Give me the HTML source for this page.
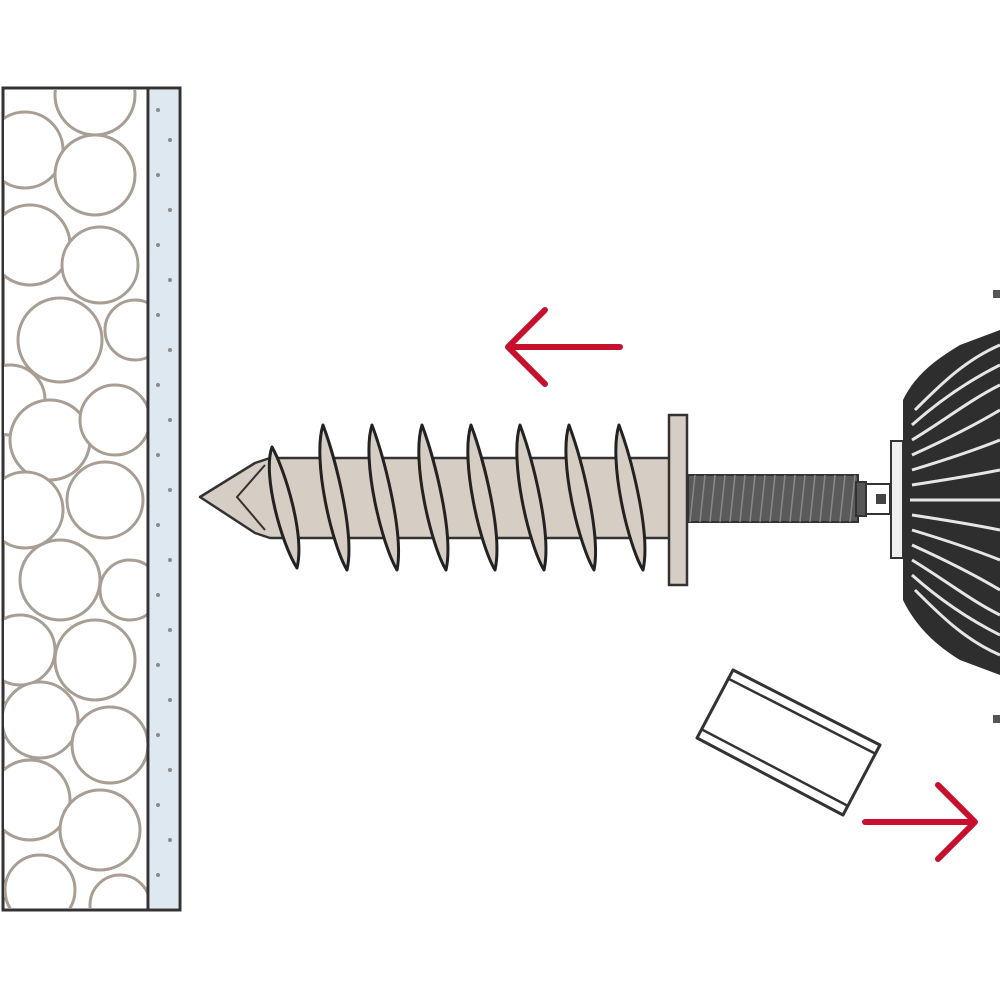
<!DOCTYPE html>
<html><head><meta charset="utf-8"><style>html,body{margin:0;padding:0;background:#fff}svg{display:block}</style></head>
<body>
<svg width="1000" height="1000" viewBox="0 0 1000 1000" xmlns="http://www.w3.org/2000/svg">
<defs>
<clipPath id="wc"><rect x="4" y="90" width="144" height="818"/></clipPath>
<clipPath id="bc"><path d="M1000 330 L960 345 C935 360 915 375 903 400 L903 600 C915 625 935 645 960 660 L1000 675 Z"/></clipPath>
</defs>
<!-- wall -->
<rect x="3" y="88" width="177" height="822" fill="#fff" stroke="#333" stroke-width="3"/>
<g clip-path="url(#wc)" fill="#fff" stroke="#a89e94" stroke-width="3">
<circle cx="95" cy="95" r="40"/><circle cx="25" cy="150" r="38"/><circle cx="95" cy="175" r="40"/>
<circle cx="30" cy="245" r="40"/><circle cx="100" cy="265" r="38"/><circle cx="60" cy="340" r="42"/>
<circle cx="135" cy="330" r="30"/><circle cx="10" cy="400" r="35"/><circle cx="50" cy="440" r="40"/>
<circle cx="115" cy="420" r="35"/><circle cx="105" cy="500" r="38"/><circle cx="25" cy="510" r="38"/>
<circle cx="60" cy="580" r="40"/><circle cx="130" cy="590" r="30"/><circle cx="20" cy="650" r="35"/>
<circle cx="95" cy="660" r="40"/><circle cx="40" cy="720" r="38"/><circle cx="110" cy="745" r="38"/>
<circle cx="30" cy="800" r="40"/><circle cx="100" cy="830" r="40"/><circle cx="40" cy="890" r="35"/><circle cx="120" cy="905" r="30"/>
</g>
<line x1="148" y1="88" x2="148" y2="910" stroke="#333" stroke-width="3"/>
<rect x="150" y="90" width="28" height="818" fill="#dde8f0"/>
<g fill="#8a8a8a">
<circle cx="158" cy="110" r="2"/><circle cx="170" cy="140" r="2"/><circle cx="158" cy="175" r="2"/><circle cx="170" cy="210" r="2"/>
<circle cx="158" cy="245" r="2"/><circle cx="170" cy="280" r="2"/><circle cx="158" cy="315" r="2"/><circle cx="170" cy="350" r="2"/>
<circle cx="158" cy="385" r="2"/><circle cx="170" cy="420" r="2"/><circle cx="158" cy="455" r="2"/><circle cx="170" cy="490" r="2"/>
<circle cx="158" cy="525" r="2"/><circle cx="170" cy="560" r="2"/><circle cx="158" cy="595" r="2"/><circle cx="170" cy="630" r="2"/>
<circle cx="158" cy="665" r="2"/><circle cx="170" cy="700" r="2"/><circle cx="158" cy="735" r="2"/><circle cx="170" cy="770" r="2"/>
<circle cx="158" cy="805" r="2"/><circle cx="170" cy="840" r="2"/><circle cx="158" cy="875" r="2"/>
</g>
<!-- screw body -->
<path d="M200 497 L255 463 L270 458 L670 458 L670 538 L270 538 L255 533 Z" fill="#d6cdc4" stroke="#333" stroke-width="2.5" stroke-linejoin="round"/>
<path d="M265 465 L237 497 L265 530" stroke="#333" stroke-width="2" fill="none"/>
<g fill="#d6cdc4" stroke="#222" stroke-width="3" stroke-linejoin="round">
<path d="M272 447 C285 470 305 535 297 568 C282 545 262 475 272 447 Z"/>
<path d="M323 425 C336 460 355 535 347 570 C332 545 312 460 323 425 Z"/>
<path d="M372 425 C385 460 404 535 397 570 C382 545 361 460 372 425 Z"/>
<path d="M422 425 C435 460 454 535 446 570 C431 545 411 460 422 425 Z"/>
<path d="M471 425 C484 460 503 535 495 570 C480 545 460 460 471 425 Z"/>
<path d="M520 425 C533 460 552 535 544 570 C529 545 509 460 520 425 Z"/>
<path d="M569 425 C582 460 601 535 594 570 C579 545 558 460 569 425 Z"/>
<path d="M619 425 C632 460 651 535 643 570 C628 545 608 460 619 425 Z"/>
</g>
<!-- flange -->
<rect x="669" y="415" width="18" height="170" fill="#d6cdc4" stroke="#333" stroke-width="2.5"/>
<!-- threaded rod -->
<rect x="688" y="475" width="170" height="47" fill="#5a5a5a" stroke="#333" stroke-width="2"/>
<g stroke="#888" stroke-width="1.5">
<path d="M695 475 L690 522 M705 475 L700 522 M715 475 L710 522 M725 475 L720 522 M735 475 L730 522 M745 475 L740 522 M755 475 L750 522 M765 475 L760 522 M775 475 L770 522 M785 475 L780 522 M795 475 L790 522 M805 475 L800 522 M815 475 L810 522 M825 475 L820 522 M835 475 L830 522 M845 475 L840 522 M855 475 L850 522"/>
</g>
<rect x="856" y="482" width="10" height="34" fill="#555" stroke="#333" stroke-width="2"/>
<rect x="866" y="484" width="24" height="30" fill="#fff" stroke="#333" stroke-width="2"/>
<rect x="876" y="494" width="10" height="10" fill="#444"/>
<rect x="891" y="441" width="12" height="117" fill="#eee" stroke="#333" stroke-width="2"/>
<!-- bit dome -->
<path d="M1000 330 L960 345 C935 360 915 375 903 400 L903 600 C915 625 935 645 960 660 L1000 675 Z" fill="#2e2e2e"/>
<g clip-path="url(#bc)" stroke="#e6e6e6" stroke-width="3" fill="none">
<path d="M915 410 C940 385 965 360 1000 345"/>
<path d="M912 425 C940 400 970 380 1000 365"/>
<path d="M912 440 C945 420 970 400 1000 385"/>
<path d="M912 455 C945 440 975 425 1000 410"/>
<path d="M912 470 C945 460 975 450 1000 440"/>
<path d="M912 485 C945 480 975 475 1000 470"/>
<path d="M910 500 L1000 500"/>
<path d="M912 515 C945 520 975 525 1000 530"/>
<path d="M912 530 C945 540 975 550 1000 560"/>
<path d="M912 545 C945 560 975 575 1000 590"/>
<path d="M912 560 C945 580 970 600 1000 615"/>
<path d="M912 575 C940 600 970 620 1000 635"/>
<path d="M915 590 C940 615 965 640 1000 655"/>
</g>
<rect x="993" y="290" width="7" height="8" fill="#555"/><rect x="993" y="715" width="7" height="8" fill="#555"/>
<!-- sleeve -->
<path d="M733 670 L880 745 L843 815 L697 738 Z" fill="#fff" stroke="#333" stroke-width="3" stroke-linejoin="round"/>
<path d="M729 679 L876 754" stroke="#333" stroke-width="2.5"/>
<path d="M701 729 L848 806" stroke="#333" stroke-width="2.5"/>
<!-- arrows -->
<g stroke="#c8102e" stroke-width="6" fill="none" stroke-linecap="round" stroke-linejoin="round">
<path d="M620 347 L508 347 M545 310 L508 347 L545 384"/>
<path d="M865 822 L975 822 M938 785 L975 822 L938 859"/>
</g>
</svg>
</body></html>
